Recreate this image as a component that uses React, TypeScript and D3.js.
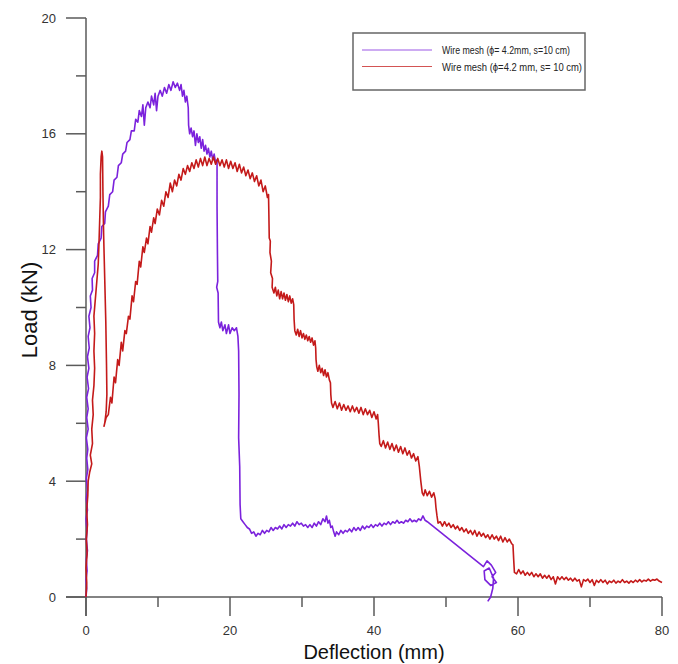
import React from "react";
import * as d3 from "d3";

const xTicksMajor = [0, 20, 40, 60, 80];
const xTicksMinor = [10, 30, 50, 70];
const yTicksMajor = [0, 4, 8, 12, 16, 20];
const yTicksMinor = [2, 6, 10, 14, 18];
const seriesNames = ["Wire mesh (ϕ= 4.2mm, s=10 cm)", "Wire mesh (ϕ=4.2 mm, s= 10 cm)"];
const seriesColors = ["#7b22dc", "#c41a1a"];

const purple: [number, number][] = [
[0,0],[0.1,0.3],[0.0,0.6],[0.15,0.9],[0.05,1.3],[0.2,1.6],[0.05,2.0],[0.15,2.3],[0.0,2.7],[0.2,3.0],[0.05,3.4],[0.2,3.7],[0.05,4.1],[0.25,4.4],[0.1,4.8],[0.25,5.1],[0.05,5.5],[0.3,5.8],[0.1,6.2],[0.3,6.5],[0.1,6.9],[0.35,7.2],[0.15,7.6],[0.4,7.9],[0.2,8.3],[0.45,8.6],[0.3,9.0],[0.55,9.3],[0.4,9.7],[0.7,10.0],[0.6,10.4],[0.9,10.6],[0.85,11.0],[1.2,11.2],[1.2,11.6],[1.6,11.8],[1.7,12.2],[2.1,12.4],[2.2,12.8],[2.6,12.9],[2.7,13.3],[3.1,13.5],[3.3,13.9],[3.7,14.0],[3.9,14.4],[4.3,14.5],[4.5,14.9],[4.9,15.0],[5.1,15.3],[5.5,15.4],[5.7,15.7],[6.1,15.8],[6.3,16.1],[6.7,16.1],[6.9,16.5],[7.2,16.4],[7.4,16.8],[7.7,16.6],[7.9,17.0],[8.1,16.3],[8.3,16.9],[8.6,17.1],[8.9,16.9],[9.1,17.3],[9.4,17.0],[9.6,17.4],[9.8,16.8],[10.0,17.3],[10.3,17.5],[10.6,17.3],[10.9,17.6],[11.2,17.4],[11.5,17.7],[11.8,17.5],[12.1,17.8],[12.4,17.6],[12.7,17.75],[13.0,17.5],[13.2,17.7],[13.4,17.3],[13.6,17.5],[13.8,17.1],[14.0,17.3],[14.2,16.9],
[14.25,16.3],[14.4,16.0],[14.6,16.2],[14.8,15.9],[15.0,16.1],[15.2,15.6],[15.4,16.0],[15.6,15.7],[15.8,15.9],[16.0,15.5],[16.2,15.8],[16.4,15.4],[16.6,15.6],[16.8,15.3],[17.0,15.5],[17.2,15.2],[17.4,15.4],[17.6,15.1],[17.8,15.3],[18.0,15.0],[18.2,15.1],
[18.2,13.5],[18.25,12.0],[18.3,10.9],[18.15,10.7],[18.35,10.5],[18.4,9.5],[18.6,9.3],[18.8,9.5],[19.0,9.2],[19.3,9.4],[19.5,9.1],[19.8,9.4],[20.0,9.1],[20.3,9.3],[20.6,9.2],[20.9,9.3],[21.1,9.0],
[21.2,8.5],[21.25,7.0],[21.2,5.5],[21.35,4.5],[21.4,3.2],[21.5,2.7],[21.8,2.6],[22.1,2.5],[22.4,2.4],[22.7,2.35],[23.0,2.2],[23.3,2.25],[23.6,2.1],[23.9,2.2],[24.2,2.15],[24.5,2.3],[24.8,2.2],[25.1,2.3],[25.4,2.25],[25.7,2.4],[26.0,2.3],[26.3,2.4],[26.6,2.35],[26.9,2.45],[27.2,2.35],[27.5,2.5],[27.8,2.4],[28.1,2.5],[28.4,2.45],[28.7,2.55],[29.0,2.45],[29.3,2.6],[29.6,2.5],[29.9,2.55],[30.2,2.45],[30.5,2.5],[30.8,2.4],[31.1,2.5],[31.4,2.4],[31.7,2.55],[32.0,2.45],[32.3,2.6],[32.6,2.5],[32.9,2.7],[33.2,2.6],[33.4,2.8],[33.6,2.55],[33.8,2.65],[34.0,2.4],[34.2,2.45],[34.4,2.25],[34.6,2.1],[34.8,2.25],[35.1,2.15],[35.4,2.3],[35.7,2.2],[36.0,2.3],[36.3,2.25],[36.6,2.35],[36.9,2.25],[37.2,2.4],[37.5,2.3],[37.8,2.4],[38.1,2.3],[38.4,2.45],[38.7,2.35],[39.0,2.45],[39.3,2.4],[39.6,2.5],[39.9,2.4],[40.2,2.5],[40.5,2.45],[40.8,2.55],[41.1,2.45],[41.4,2.55],[41.7,2.5],[42.0,2.6],[42.3,2.5],[42.6,2.6],[42.9,2.55],[43.2,2.65],[43.5,2.55],[43.8,2.6],[44.1,2.55],[44.4,2.65],[44.7,2.6],[45.0,2.7],[45.3,2.6],[45.6,2.65],[45.9,2.6],[46.2,2.7],[46.5,2.65],[46.8,2.8],[47.1,2.65],[47.4,2.6],
[55.2,1.05],[55.7,1.25],[56.3,1.1],[56.9,0.85],[56.4,0.7],[57.0,0.5],[56.2,0.4],[55.4,0.6],[55.3,0.9],[56.0,1.0],[56.6,0.65],[56.5,0.3],[56.2,0.0],[55.8,-0.15]
];

const red: [number, number][] = [
[0,0],[0.1,0.5],[0.0,1.0],[0.15,1.5],[0.05,2.0],[0.2,2.5],[0.1,3.0],[0.25,3.5],[0.3,4.0],[0.5,4.3],[0.8,4.6],[0.6,4.9],[0.9,5.3],[0.8,5.8],[1.0,6.3],[0.9,6.8],[1.1,7.3],[1.2,7.9],[1.1,8.5],[1.2,9.1],[1.1,9.7],[1.3,10.3],[1.5,10.9],[1.7,11.5],[1.8,12.2],[1.9,13.0],[2.0,13.8],[2.0,14.6],[2.1,15.2],[2.2,15.4],[2.3,15.2],[2.35,14.0],[2.45,12.5],[2.6,11.0],[2.75,9.5],[2.85,8.0],[2.9,7.0],[2.8,6.4],[2.6,6.0],[2.5,5.9],
[2.8,6.2],[3.1,6.3],[3.4,6.9],[3.6,6.7],[3.9,7.6],[4.1,7.4],[4.4,8.2],[4.6,8.0],[4.9,8.8],[5.1,8.5],[5.4,9.2],[5.6,9.1],[5.9,9.7],[6.1,9.6],[6.4,10.4],[6.6,10.2],[6.9,10.9],[7.1,10.8],[7.4,11.6],[7.6,11.4],[7.9,12.1],[8.1,11.9],[8.4,12.4],[8.6,12.2],[8.9,12.8],[9.1,12.6],[9.4,13.1],[9.6,12.9],[9.9,13.4],[10.2,13.2],[10.5,13.7],[10.8,13.5],[11.1,14.0],[11.4,13.8],[11.7,14.3],[12.0,14.0],[12.3,14.4],[12.6,14.2],[12.9,14.6],[13.2,14.4],[13.5,14.8],[13.8,14.6],[14.1,14.9],[14.4,14.7],[14.7,15.0],[15.0,14.8],[15.3,15.1],[15.6,14.85],[15.9,15.15],[16.2,14.9],[16.5,15.2],[16.8,14.9],[17.1,15.15],[17.4,14.95],[17.7,15.2],[18.0,14.95],[18.3,15.15],[18.6,14.9],[18.9,15.1],[19.2,14.85],[19.5,15.1],[19.8,14.8],[20.1,15.05],[20.4,14.8],[20.7,15.0],[21.0,14.7],[21.3,14.95],[21.6,14.65],[21.9,14.85],[22.2,14.55],[22.5,14.75],[22.8,14.45],[23.1,14.65],[23.4,14.35],[23.7,14.55],[24.0,14.2],[24.3,14.4],[24.6,14.0],[24.9,14.2],[25.2,13.8],
[25.35,13.9],[25.4,13.2],[25.45,12.4],[25.6,12.3],[25.55,11.9],[25.75,11.6],[25.65,11.2],[25.9,11.0],[25.85,10.7],
[26.1,10.5],[26.3,10.7],[26.5,10.4],[26.7,10.6],[26.9,10.3],[27.1,10.55],[27.3,10.3],[27.5,10.5],[27.7,10.25],[27.9,10.45],[28.1,10.2],[28.3,10.4],[28.5,10.15],[28.7,10.3],
[28.85,10.1],[28.9,9.6],[29.0,9.2],
[29.2,9.05],[29.4,9.25],[29.6,9.0],[29.8,9.2],[30.0,8.95],[30.2,9.1],[30.4,8.9],[30.6,9.05],[30.8,8.85],[31.0,9.0],[31.2,8.8],[31.4,8.95],[31.6,8.7],[31.8,8.85],
[31.9,8.6],[31.95,8.2],[32.05,7.95],
[32.2,7.8],[32.4,8.0],[32.6,7.75],[32.8,7.9],[33.0,7.65],[33.2,7.85],[33.4,7.6],[33.6,7.75],[33.8,7.5],
[33.95,7.4],[34.0,7.0],[34.1,6.7],
[34.3,6.55],[34.6,6.75],[34.9,6.5],[35.2,6.7],[35.5,6.45],[35.8,6.65],[36.1,6.45],[36.4,6.6],[36.7,6.4],[37.0,6.6],[37.3,6.4],[37.6,6.55],[37.9,6.35],[38.2,6.55],[38.5,6.3],[38.8,6.5],[39.1,6.3],[39.4,6.45],[39.7,6.2],[40.0,6.4],[40.3,6.15],[40.5,6.3],
[40.6,6.0],[40.7,5.6],[40.8,5.3],
[41.0,5.2],[41.3,5.4],[41.6,5.15],[41.9,5.35],[42.2,5.1],[42.5,5.3],[42.8,5.05],[43.1,5.25],[43.4,5.0],[43.7,5.2],[44.0,4.95],[44.3,5.15],[44.6,4.9],[44.9,5.05],[45.2,4.8],[45.5,4.95],[45.8,4.7],[46.1,4.85],
[46.3,4.5],[46.5,4.0],[46.7,3.6],
[46.9,3.5],[47.1,3.7],[47.4,3.5],[47.7,3.65],[48.0,3.45],[48.3,3.6],[48.5,3.4],
[48.6,3.1],[48.75,2.8],[48.9,2.55],
[49.2,2.6],[49.5,2.45],[49.8,2.6],[50.1,2.45],[50.4,2.55],[50.7,2.4],[51.0,2.5],[51.3,2.35],[51.6,2.45],[51.9,2.3],[52.2,2.4],[52.5,2.25],[52.8,2.35],[53.1,2.2],[53.4,2.3],[53.7,2.15],[54.0,2.3],[54.3,2.1],[54.6,2.25],[54.9,2.1],[55.2,2.2],[55.5,2.05],[55.8,2.15],[56.1,2.0],[56.4,2.15],[56.7,2.0],[57.0,2.1],[57.3,1.95],[57.6,2.1],[57.9,1.9],[58.2,2.05],[58.5,1.9],[58.8,2.0],[59.1,1.85],
[59.3,1.8],[59.4,1.3],[59.5,0.85],
[59.8,0.8],[60.1,0.95],[60.4,0.8],[60.7,0.9],[61.0,0.75],[61.3,0.85],[61.6,0.75],[61.9,0.85],[62.2,0.7],[62.5,0.8],[62.8,0.7],[63.1,0.8],[63.4,0.65],[63.7,0.75],[64.0,0.65],[64.3,0.75],[64.6,0.6],[64.9,0.7],[65.2,0.45],[65.5,0.7],[65.8,0.6],[66.1,0.7],[66.4,0.6],[66.7,0.68],[67.0,0.58],[67.3,0.65],[67.6,0.55],[67.9,0.65],[68.2,0.55],[68.5,0.6],[68.8,0.35],[69.1,0.6],[69.4,0.55],[69.7,0.62],[70.0,0.5],[70.3,0.6],[70.6,0.4],[70.9,0.58],[71.2,0.5],[71.5,0.6],[71.8,0.5],[72.1,0.58],[72.4,0.45],[72.7,0.55],[73.0,0.5],[73.3,0.58],[73.6,0.48],[73.9,0.55],[74.2,0.5],[74.5,0.6],[74.8,0.5],[75.1,0.55],[75.4,0.48],[75.7,0.56],[76.0,0.5],[76.3,0.58],[76.6,0.52],[76.9,0.6],[77.2,0.52],[77.5,0.58],[77.8,0.55],[78.1,0.62],[78.4,0.55],[78.7,0.6],[79.0,0.58],[79.3,0.62],[79.6,0.55],[80.0,0.5]
];

export default function App() {
  const x = d3.scaleLinear().domain([0, 80]).range([86, 662]);
  const y = d3.scaleLinear().domain([0, 20]).range([597, 18]);
  const line = d3.line<[number, number]>().x(d => x(d[0])).y(d => y(d[1]));
  const axisColor = "#5a5a5a";
  const font = "'Liberation Sans', Arial, sans-serif";
  const series = [purple, red];
  return (
    <svg width={678} height={664} style={{ position: "absolute", left: 0, top: 0, background: "#fff" }} fontFamily={font}>
      <rect width={678} height={664} fill="#fff" />
      <line x1={66} x2={x(80)} y1={y(0)} y2={y(0)} stroke={axisColor} strokeWidth={1.5} />
      <line x1={x(0)} x2={x(0)} y1={y(20)} y2={616} stroke={axisColor} strokeWidth={1.5} />
      {xTicksMajor.map(t => (
        <g key={"xm" + t}>
          <line x1={x(t)} x2={x(t)} y1={y(0)} y2={616} stroke={axisColor} strokeWidth={1.5} />
          <text x={x(t)} y={635} textAnchor="middle" fontSize={13} fill="#333">{t}</text>
        </g>
      ))}
      {xTicksMinor.map(t => (
        <line key={"xn" + t} x1={x(t)} x2={x(t)} y1={y(0)} y2={607} stroke={axisColor} strokeWidth={1.5} />
      ))}
      {yTicksMajor.map(t => (
        <g key={"ym" + t}>
          <line x1={66} x2={x(0)} y1={y(t)} y2={y(t)} stroke={axisColor} strokeWidth={1.5} />
          <text x={56} y={y(t) + 4.5} textAnchor="end" fontSize={13} fill="#333">{t}</text>
        </g>
      ))}
      {yTicksMinor.map(t => (
        <line key={"yn" + t} x1={76} x2={x(0)} y1={y(t)} y2={y(t)} stroke={axisColor} strokeWidth={1.5} />
      ))}
      {series.map((s, i) => (
        <path key={i} d={line(s) || ""} fill="none" stroke={seriesColors[i]} strokeWidth={1.6} strokeLinejoin="round" />
      ))}
      <text x={374} y={659} textAnchor="middle" fontSize={20} fill="#111">Deflection (mm)</text>
      <text transform="translate(37,310) rotate(-90)" textAnchor="middle" fontSize={22} fill="#111">Load (kN)</text>
      <rect x={353} y={33} width={232} height={57} fill="#fff" stroke="#666" strokeWidth={1.5} />
      {seriesNames.map((n, i) => (
        <g key={n}>
          <line x1={362} x2={432} y1={50 + i * 16.5} y2={50 + i * 16.5} stroke={seriesColors[i]} strokeOpacity={0.75} strokeWidth={1.2} />
          <text x={442} y={54 + i * 16.5} fontSize={11.5} fill="#222" textLength={i === 0 ? 128 : 140} lengthAdjust="spacingAndGlyphs">{n}</text>
        </g>
      ))}
    </svg>
  );
}
